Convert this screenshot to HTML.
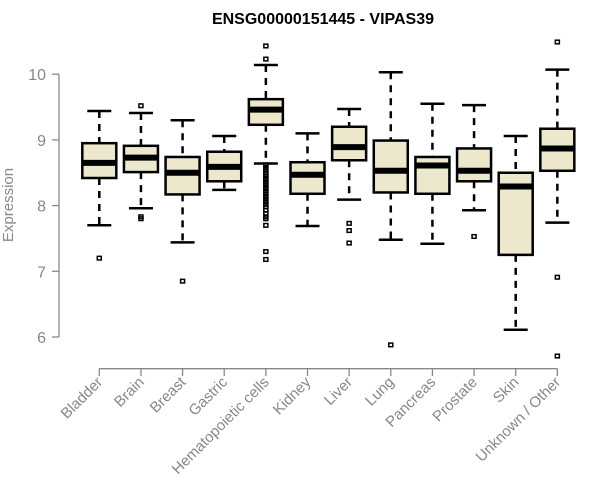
<!DOCTYPE html>
<html><head><meta charset="utf-8"><style>
html,body{margin:0;padding:0;background:#fff;}
svg{display:block;font-family:"Liberation Sans",sans-serif;}
</style></head><body>
<svg id="chart" width="600" height="500">
<text x="323" y="24" text-anchor="middle" font-size="16" font-weight="bold" fill="#000">ENSG00000151445 - VIPAS39</text>
<text transform="translate(13,205) rotate(-90)" text-anchor="middle" font-size="15" fill="#888">Expression</text>
<g id="yaxis"></g>
<g id="xaxis"></g>
<g id="boxes"></g>
</svg>
<script>
const categories=["Bladder","Brain","Breast","Gastric","Hematopoietic cells","Kidney","Liver","Lung","Pancreas","Prostate","Skin","Unknown / Other"];
const whiskerLow=[7.70,7.96,7.44,8.24,8.64,7.69,8.09,7.48,7.42,7.93,6.11,7.74];
const q1=[8.42,8.51,8.17,8.37,9.23,8.18,8.69,8.20,8.18,8.37,7.25,8.53];
const medians=[8.65,8.73,8.50,8.59,9.46,8.47,8.89,8.53,8.61,8.53,8.29,8.87];
const q3=[8.95,8.91,8.74,8.82,9.62,8.66,9.20,8.99,8.74,8.87,8.50,9.17];
const whiskerHigh=[9.44,9.41,9.30,9.06,10.14,9.10,9.47,10.03,9.55,9.53,9.06,10.07];
const outliers=[[7.20],[9.52,7.80,7.83],[6.85],[],[10.43,10.23,8.62,8.58,8.55,8.5,8.47,8.44,8.4,8.36,8.33,8.3,8.26,8.22,8.18,8.14,8.1,8.06,8.02,7.98,7.93,7.88,7.83,7.8,7.7,7.3,7.18],[],[7.73,7.62,7.43],[5.88],[],[7.53],[],[10.49,6.91,5.71]];
const yTicks=[6,7,8,9,10];

const NS="http://www.w3.org/2000/svg";
function y(v){return 337-(v-6)*65.7;}
function x(i){return 99.3+i*41.64;}
function mk(tag,attrs,parent){const e=document.createElementNS(NS,tag);for(const k in attrs)e.setAttribute(k,attrs[k]);parent.appendChild(e);return e;}
const ya=document.getElementById('yaxis'),xa=document.getElementById('xaxis'),bx=document.getElementById('boxes');
mk('line',{x1:59,x2:59,y1:y(yTicks[0]),y2:y(yTicks[yTicks.length-1]),stroke:'#888','stroke-width':1.3},ya);
yTicks.forEach(t=>{
  mk('line',{x1:52,x2:59,y1:y(t),y2:y(t),stroke:'#888','stroke-width':1.3},ya);
  const tx=mk('text',{x:46,y:y(t)+6,'text-anchor':'end','font-size':16,fill:'#888'},ya);
  tx.textContent=t;
  
  
});
mk('line',{x1:x(0),x2:x(categories.length-1),y1:368.7,y2:368.7,stroke:'#888','stroke-width':1.3},xa);
categories.forEach((c,i)=>{
  mk('line',{x1:x(i),x2:x(i),y1:368.7,y2:376,stroke:'#888','stroke-width':1.3},xa);
  const tx=mk('text',{transform:`translate(${x(i)+4},${383}) rotate(-45)`,'text-anchor':'end','font-size':15,fill:'#888'},xa);
  tx.textContent=c;
  
  
  const g=mk('g',{},bx);
  
  
  const cx=x(i),hw=17,cw=12;
  mk('line',{x1:cx,x2:cx,y1:y(whiskerHigh[i]),y2:y(q3[i]),stroke:'#000','stroke-width':2.5,'stroke-dasharray':'7,6'},g);
  mk('line',{x1:cx,x2:cx,y1:y(q1[i]),y2:y(whiskerLow[i]),stroke:'#000','stroke-width':2.5,'stroke-dasharray':'7,6'},g);
  mk('line',{x1:cx-cw,x2:cx+cw,y1:y(whiskerHigh[i]),y2:y(whiskerHigh[i]),stroke:'#000','stroke-width':2.5},g);
  mk('line',{x1:cx-cw,x2:cx+cw,y1:y(whiskerLow[i]),y2:y(whiskerLow[i]),stroke:'#000','stroke-width':2.5},g);
  mk('rect',{x:cx-hw,y:y(q3[i]),width:hw*2,height:y(q1[i])-y(q3[i]),fill:'#ede7cd',stroke:'#000','stroke-width':2.5},g);
  mk('line',{x1:cx-hw,x2:cx+hw,y1:y(medians[i]),y2:y(medians[i]),stroke:'#000','stroke-width':6},g);
  outliers[i].forEach(v=>{
    mk('rect',{x:cx-2,y:y(v)-1.8,width:4,height:3.6,fill:'none',stroke:'#000','stroke-width':1.5},g);
  });
});
</script>
</body></html>
